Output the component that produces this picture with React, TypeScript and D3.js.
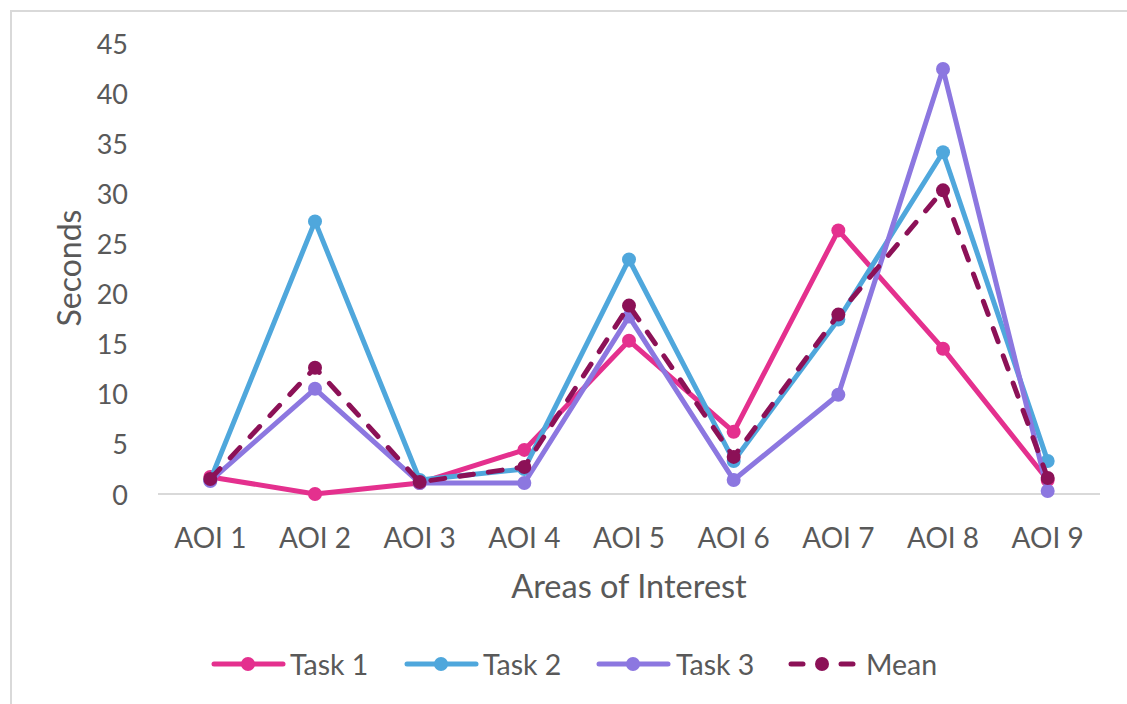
import React from "react";
import * as d3 from "d3";

const categories = ["AOI 1", "AOI 2", "AOI 3", "AOI 4", "AOI 5", "AOI 6", "AOI 7", "AOI 8", "AOI 9"];
const task1 = [1.7, 0.0, 1.1, 4.4, 15.3, 6.2, 26.3, 14.5, 1.4];
const task2 = [1.4, 27.2, 1.4, 2.5, 23.4, 3.3, 17.4, 34.1, 3.3];
const task3 = [1.3, 10.5, 1.1, 1.1, 17.7, 1.4, 9.9, 42.4, 0.3];
const mean = [1.5, 12.6, 1.2, 2.7, 18.8, 3.7, 17.9, 30.3, 1.6];
const yTicks = [0, 5, 10, 15, 20, 25, 30, 35, 40, 45];
const seriesNames = ["Task 1", "Task 2", "Task 3", "Mean"];

const colors = ["#E4308E", "#4FA7DC", "#8C77E0", "#8C1157"];
const FONT = "Lato, 'Noto Sans', sans-serif";

export default function App() {
  const W = 1127, H = 704;
  const x = d3.scaleBand<string>().domain(categories).range([158, 1100]);
  const y = d3.scaleLinear().domain([0, 45]).range([494, 43]);
  const cx = (c: string) => (x(c) as number) + x.bandwidth() / 2;
  const line = d3.line<number>().x((_, i) => cx(categories[i])).y((d) => y(d));
  const all = [task1, task2, task3, mean];

  const legendItems = [
    { lx: 212, tx: 290 },
    { lx: 405, tx: 483 },
    { lx: 597, tx: 676 },
    { lx: 789, tx: 866 },
  ];
  const ly = 664;

  return (
    <svg width={W} height={H} style={{ position: "absolute", left: 0, top: 0, background: "#fff" }}>
      <rect x={11} y={11} width={1200} height={800} fill="#fff" stroke="#D9D9D9" strokeWidth={2} />
      {yTicks.map((t) => (
        <text key={t} x={128} y={y(t)} textAnchor="end" dominantBaseline="central" fontFamily={FONT} fontSize={27} fill="#595959">
          {t}
        </text>
      ))}
      <line x1={158} x2={1100} y1={y(0)} y2={y(0)} stroke="#D9D9D9" strokeWidth={2} />
      {categories.map((c) => (
        <text key={c} x={cx(c)} y={537} textAnchor="middle" dominantBaseline="central" fontFamily={FONT} fontSize={28} fill="#595959">
          {c}
        </text>
      ))}
      <text x={629} y={585} textAnchor="middle" dominantBaseline="central" fontFamily={FONT} fontSize={32.5} fill="#595959">
        Areas of Interest
      </text>
      <text transform={`translate(68,268) rotate(-90)`} textAnchor="middle" dominantBaseline="central" fontFamily={FONT} fontSize={32} fill="#595959">
        Seconds
      </text>
      {all.map((s, si) => (
        <g key={si}>
          <path
            d={line(s) as string}
            fill="none"
            stroke={colors[si]}
            strokeWidth={5}
            strokeLinejoin="round"
            strokeLinecap="round"
            strokeDasharray={si === 3 ? "14,15" : undefined}
          />
          {s.map((v, i) => (
            <circle key={i} cx={cx(categories[i])} cy={y(v)} r={7} fill={colors[si]} />
          ))}
        </g>
      ))}
      {seriesNames.map((n, i) => {
        const it = legendItems[i];
        return (
          <g key={n}>
            {i === 3 ? (
              <>
                <line x1={it.lx + 2} x2={it.lx + 14} y1={ly} y2={ly} stroke={colors[i]} strokeWidth={5} strokeLinecap="round" />
                <line x1={it.lx + 52} x2={it.lx + 64} y1={ly} y2={ly} stroke={colors[i]} strokeWidth={5} strokeLinecap="round" />
                <circle cx={it.lx + 33} cy={ly} r={7} fill={colors[i]} />
              </>
            ) : (
              <>
                <line x1={it.lx + 2} x2={it.lx + 71} y1={ly} y2={ly} stroke={colors[i]} strokeWidth={5} strokeLinecap="round" />
                <circle cx={it.lx + 36} cy={ly} r={7} fill={colors[i]} />
              </>
            )}
            <text x={it.tx} y={ly} dominantBaseline="central" fontFamily={FONT} fontSize={28.5} fill="#595959">
              {n}
            </text>
          </g>
        );
      })}
    </svg>
  );
}
